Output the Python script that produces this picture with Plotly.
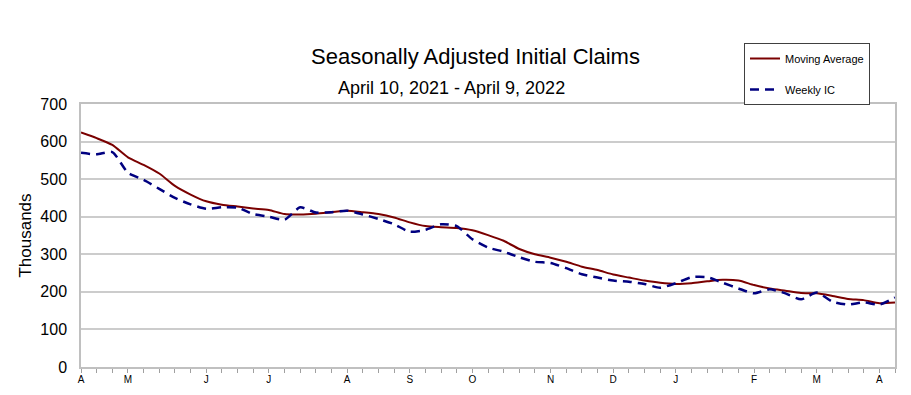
import pandas as pd
import plotly.graph_objects as go

# Week-ending dates (Saturdays), April 10, 2021 - April 9, 2022
weeks = pd.date_range("2021-04-10", periods=53, freq="7D")

moving_average = [624, 609, 591, 558, 538, 515, 482, 459, 441, 432,
                  427, 422, 418, 407, 406, 408, 412, 416, 412, 407,
                  398, 385, 375, 372, 370, 364, 351, 336, 314, 300,
                  291, 280, 267, 258, 246, 238, 230, 224, 221, 223,
                  228, 232, 230, 218, 209, 203, 197, 196, 189, 181,
                  178, 170, 172]

weekly_ic = [570, 566, 572, 517, 498, 474, 450, 433, 421, 425,
             424, 407, 400, 392, 425, 411, 412, 416, 406, 394,
             380, 360, 365, 380, 375, 340, 318, 307, 292, 280,
             277, 263, 247, 238, 230, 227, 221, 211, 223, 239,
             239, 224, 209, 196, 207, 196, 180, 198, 174, 166,
             172, 166, 185]

month_tick_dates = ["2021-04-10", "2021-05-01", "2021-06-05", "2021-07-03",
                    "2021-08-07", "2021-09-04", "2021-10-02", "2021-11-06",
                    "2021-12-04", "2022-01-01", "2022-02-05", "2022-03-05",
                    "2022-04-02"]
month_tick_text = ["A", "M", "J", "J", "A", "S", "O", "N", "D", "J", "F", "M", "A"]

y_ticks = [0, 100, 200, 300, 400, 500, 600, 700]

FONT = "Liberation Sans, Arial, sans-serif"
W, H = 911, 395
L, R, T, B = 81, 16, 104, 28
plot_w = W - L - R
plot_h = H - T - B


def px_to_paper(px, py):
    return (px - L) / plot_w, (H - B - py) / plot_h


fig = go.Figure()
fig.add_trace(go.Scatter(
    x=weeks, y=moving_average, name="Moving Average", mode="lines",
    line=dict(color="#7a0000", width=2, shape="spline", smoothing=0.6),
    legendgroup="a",
))
fig.add_trace(go.Scatter(
    x=weeks, y=weekly_ic, name="Weekly IC", mode="lines",
    line=dict(color="#000080", width=2.5, dash="9px,6px", shape="spline", smoothing=0.6),
    legendgroup="b",
))

tx, ty = px_to_paper(475, 57)
sx, sy = px_to_paper(451, 88)

fig.update_layout(
    width=W, height=H,
    margin=dict(l=L, r=R, t=T, b=B, autoexpand=False),
    paper_bgcolor="white", plot_bgcolor="white",
    font=dict(family=FONT, color="#000000"),
    showlegend=True,
    legend=dict(
        x=744 / W, y=1 - 43 / H, xref="container", yref="container",
        xanchor="left", yanchor="top",
        bgcolor="white", bordercolor="#404040", borderwidth=1,
        font=dict(size=11, family=FONT, color="#000000"),
        traceorder="grouped", tracegroupgap=12,
        itemwidth=30,
    ),
    annotations=[
        dict(text="Seasonally Adjusted Initial Claims",
             x=tx, y=ty, xref="paper", yref="paper",
             xanchor="center", yanchor="middle", showarrow=False,
             font=dict(size=22, family=FONT, color="#000000")),
        dict(text="April 10, 2021 - April 9, 2022",
             x=sx, y=sy, xref="paper", yref="paper",
             xanchor="center", yanchor="middle", showarrow=False,
             font=dict(size=18, family=FONT, color="#000000")),
    ],
)

fig.update_xaxes(
    range=[weeks[0], weeks[-1]], automargin=False,
    tickmode="array", tickvals=month_tick_dates, ticktext=month_tick_text,
    ticks="outside", ticklen=4, tickcolor="#a0a0a0", tickwidth=1,
    tickfont=dict(size=10, family=FONT, color="#000000"),
    ticklabelstandoff=-2,
    showgrid=False, zeroline=False,
    showline=True, linecolor="#c0c0c0", linewidth=1.5, mirror=True,
    minor=dict(tick0="2021-04-10", dtick=7 * 86400000, ticks="outside",
               ticklen=4, tickcolor="#a0a0a0", tickwidth=1, showgrid=False),
)
fig.update_yaxes(
    range=[0, 700], tickmode="array", tickvals=y_ticks, automargin=False,
    ticks="", tickfont=dict(size=16, family=FONT, color="#000000"),
    ticklabelstandoff=9,
    showgrid=True, gridcolor="#cccccc", gridwidth=1.5, zeroline=False,
    showline=True, linecolor="#c0c0c0", linewidth=1.5, mirror=True,
    title=dict(text="Thousands", font=dict(size=17, family=FONT, color="#000000"), standoff=4),
)

fig.write_html("out.html", config={"displayModeBar": False},
               post_script="document.body.style.margin='0';")
